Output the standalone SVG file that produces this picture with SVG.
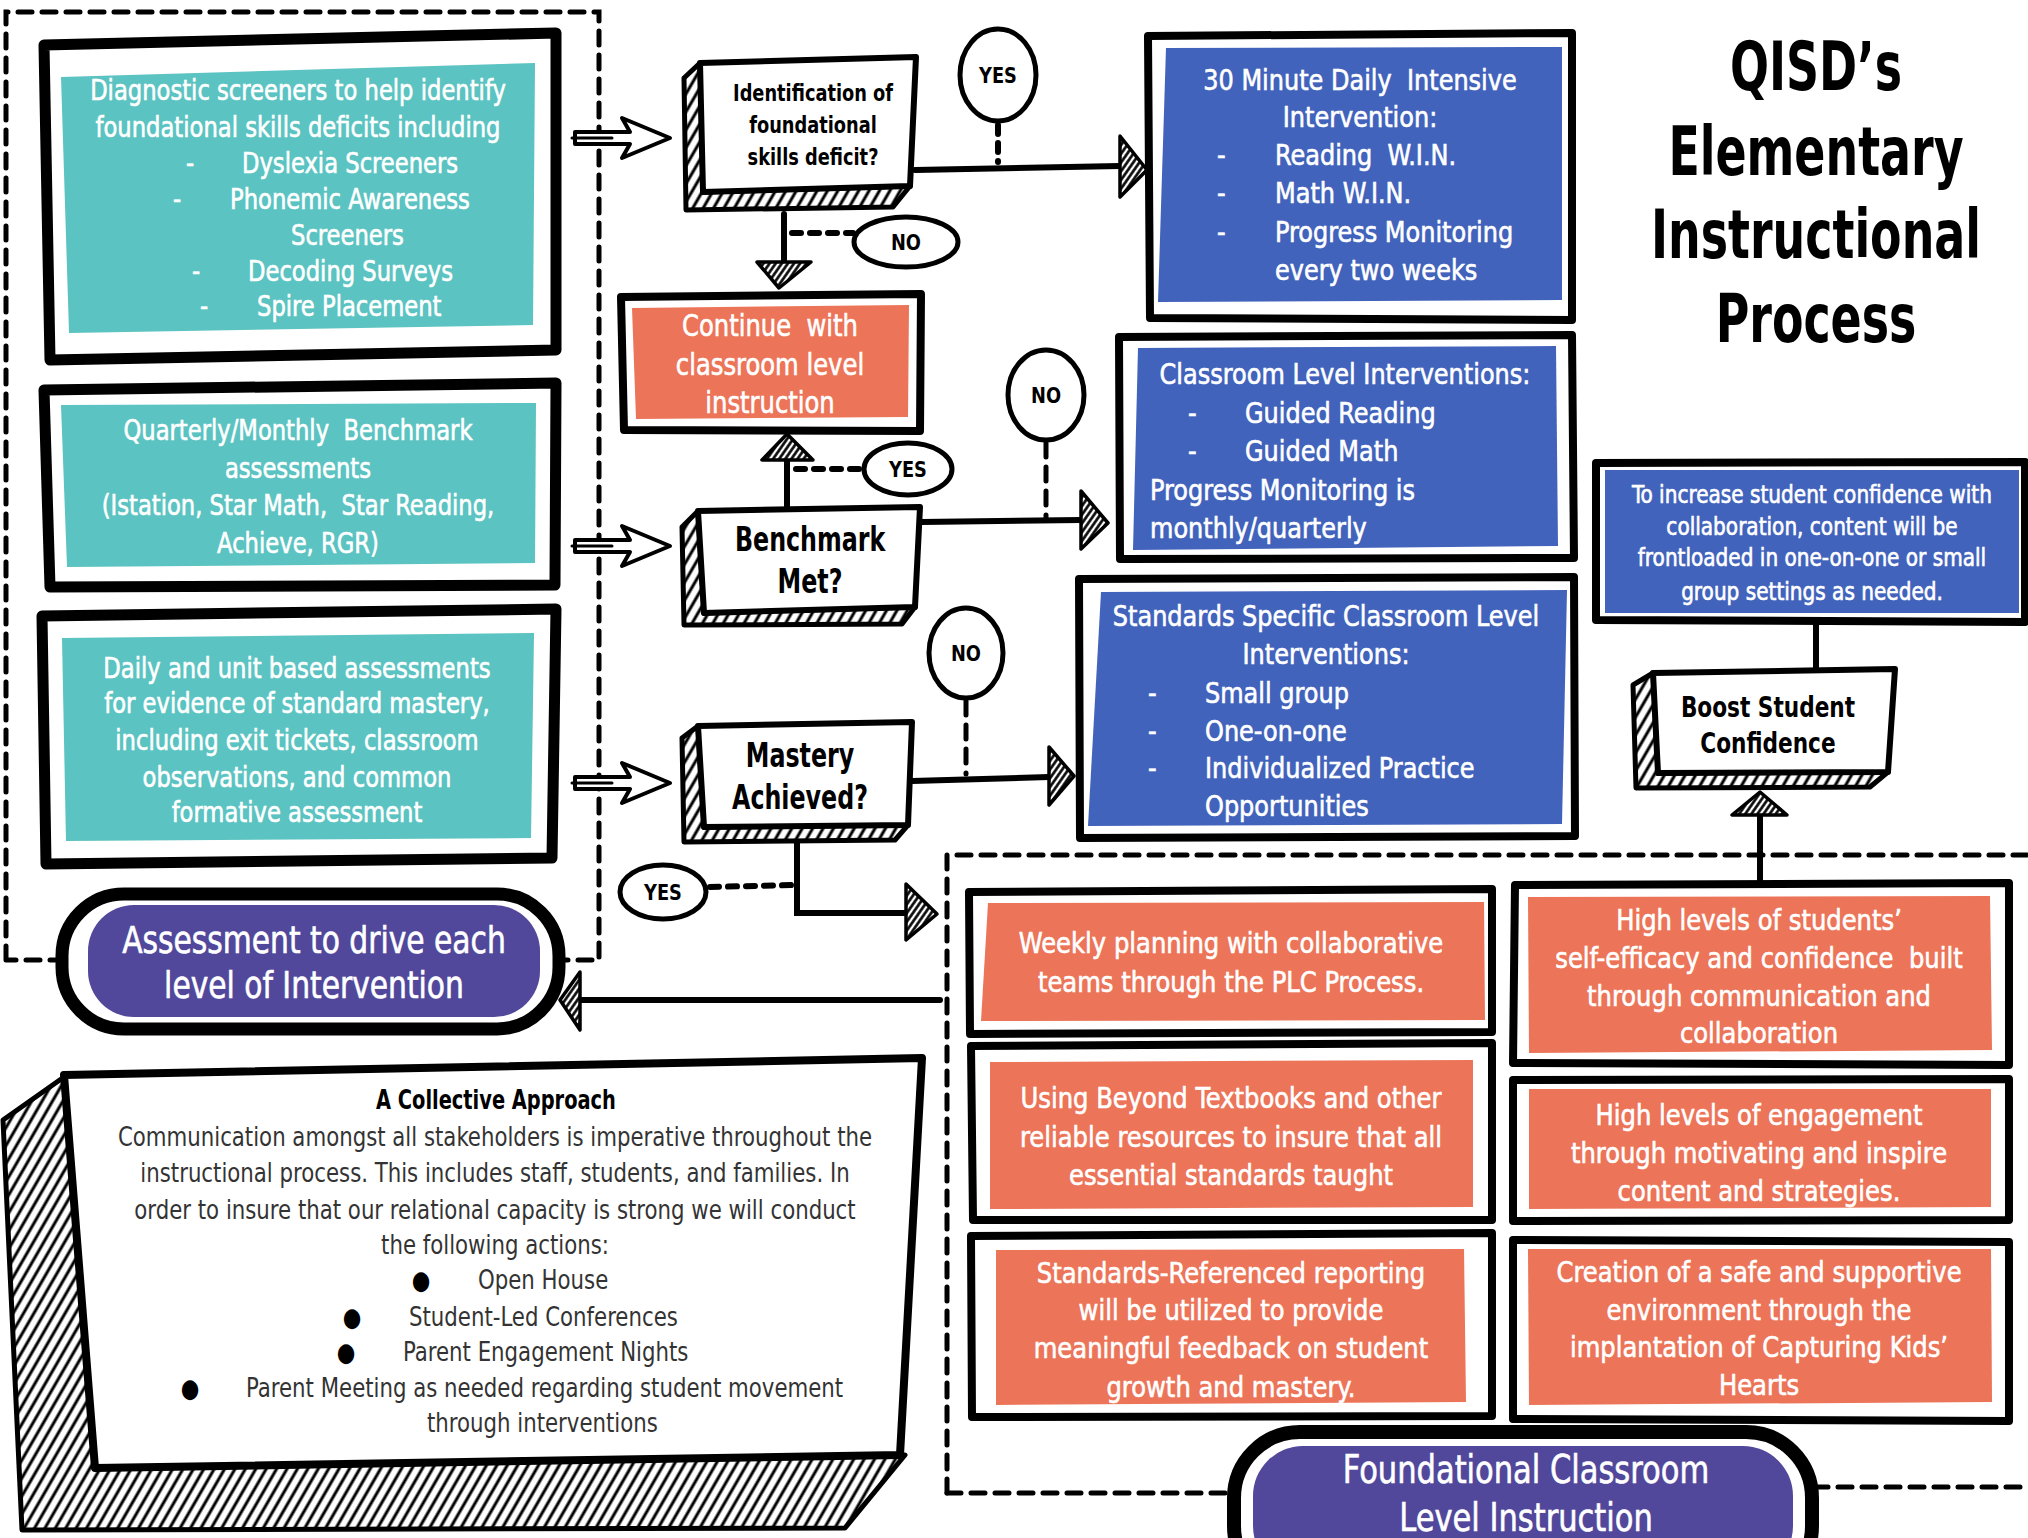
<svg xmlns="http://www.w3.org/2000/svg" width="2028" height="1538" viewBox="0 0 2028 1538">
<defs>
<style>
.fr{fill:#fff;stroke:#000;stroke-width:11;stroke-linejoin:round}
.fr2{fill:#fff;stroke:#000;stroke-width:8;stroke-linejoin:round}
.teal{fill:#5BC3C1}
.blue{fill:#4263BB}
.orng{fill:#EC7458}
.purp{fill:#51489B}
text{transform-box:fill-box;transform-origin:center}
.t{font-family:"Liberation Sans Narrow","DejaVu Sans Condensed","Open Sans",sans-serif;font-stretch:condensed;fill:#fff;stroke:#fff;stroke-width:.6;text-anchor:middle}
.s{text-anchor:start;transform-origin:left center}
.k{fill:#000;stroke:none;font-weight:bold}
.f28{font-size:28px}.f29{font-size:29px}.f24{font-size:24px}.f31{font-size:31px}
#diag text,#bench-assess text,#daily-assess text{transform:scaleX(.9)}
#intensive text,#classroom text,#standards text{transform:scaleX(.92)}
#frontload text{transform:scaleX(.93)}
#weekly text,#beyond text,#reporting text,#selfefficacy text,#engagement text,#safe text{transform:scaleX(.93)}
#continue text{transform:scaleX(.87)}
#collective text{transform:scaleX(.91)}
#collective .ttl{transform:scaleX(.83)}
#ident text{transform:scaleX(.86)}
#benchmark text,#mastery text{transform:scaleX(.8)}
#boost text{transform:scaleX(.83)}
#title text{transform:scaleX(.75)}
#assess-pill text,#found-pill text{transform:scaleX(.87)}
#labels text{transform:scaleX(.9)}
.face{fill:#fff;stroke:#000;stroke-width:6;stroke-linejoin:round}
.back{fill:url(#hatchB);stroke:#000;stroke-width:5;stroke-linejoin:round}
.ln{fill:none;stroke:#000;stroke-width:6;stroke-linecap:round}
.dot{fill:none;stroke:#000;stroke-width:6;stroke-dasharray:9 9;stroke-linecap:round}
.dash{fill:none;stroke:#000;stroke-width:5;stroke-dasharray:14 10;stroke-linecap:round}
.ah{fill:url(#hatchA);stroke:#000;stroke-width:3.5;stroke-linejoin:round}
.el{fill:#fff;stroke:#000;stroke-width:5}
.blk{fill:#fff;stroke:#000;stroke-width:4;stroke-linejoin:round}
.pre{white-space:pre}
</style>
<pattern id="hatchB" width="9" height="9" patternUnits="userSpaceOnUse" patternTransform="rotate(30)">
<rect width="9" height="9" fill="#fff"/>
<line x1="2" y1="0" x2="2" y2="9" stroke="#000" stroke-width="3"/>
</pattern>
<pattern id="hatchA" width="5" height="5" patternUnits="userSpaceOnUse" patternTransform="rotate(35)">
<rect width="5" height="5" fill="#fff"/>
<line x1="1.5" y1="0" x2="1.5" y2="5" stroke="#000" stroke-width="2.6"/>
</pattern>
</defs>
<rect width="2028" height="1538" fill="#fff"/>

<!-- dashed regions -->
<g id="regions">
<path class="dash" d="M6,960 L6,12 L599,12 L599,960 L6,960"/>
<path class="dash" d="M947,1493 L947,855 L2028,855"/>
<path class="dash" d="M947,1493 L1231,1493"/>
<path class="dash" d="M1814,1487 L2028,1487"/>
</g>

<!-- connectors -->
<g id="connectors">
<polygon class="blk" points="575,132 630,132 622,118 670,138 622,158 630,144 575,144"/>
<path class="ln" style="stroke-width:3" d="M572,138 L612,138"/>
<polygon class="blk" points="575,540 630,540 622,526 670,546 622,566 630,552 575,552"/>
<path class="ln" style="stroke-width:3" d="M572,546 L612,546"/>
<polygon class="blk" points="575,777 630,777 622,763 670,783 622,803 630,789 575,789"/>
<path class="ln" style="stroke-width:3" d="M572,783 L612,783"/>
<path class="ln" d="M915,170 L1120,166"/>
<polygon class="ah" points="1120,136 1147,170 1120,197"/>
<path class="dot" d="M998,125 L998,162"/>
<path class="ln" d="M784,214 L784,262"/>
<polygon class="ah" points="757,262 811,262 779,288"/>
<path class="dot" d="M792,233 L853,233"/>
<path class="ln" d="M787,508 L787,460"/>
<polygon class="ah" points="762,460 813,460 787,434"/>
<path class="dot" d="M796,469 L862,469"/>
<path class="ln" d="M921,522 L1081,520"/>
<polygon class="ah" points="1081,491 1108,523 1081,549"/>
<path class="dash" d="M1046,443 L1046,518"/>
<path class="ln" d="M912,781 L1049,777"/>
<polygon class="ah" points="1049,747 1074,776 1049,805"/>
<path class="dash" d="M966,701 L966,774"/>
<path class="ln" d="M797,842 L797,913 L906,913"/>
<polygon class="ah" points="906,884 937,914 906,940"/>
<path class="dot" d="M710,887 L795,885"/>
<path class="ln" d="M940,1000 L580,1000"/>
<polygon class="ah" points="580,972 560,1000 580,1030"/>
<path class="ln" d="M1760,883 L1760,815"/>
<polygon class="ah" points="1732,815 1787,815 1760,792"/>
<path class="ln" d="M1816,622 L1816,671"/>
</g>

<!-- left teal boxes -->
<g id="diag">
<polygon class="fr" points="44,45 556,33 556,350 50,360"/>
<polygon class="teal" points="61,77 535,63 533,325 69,333"/>
<text class="t f28" x="298" y="100">Diagnostic screeners to help identify</text>
<text class="t f28" x="298" y="137">foundational skills deficits including</text>
<text class="t f28 s" x="186" y="173">-</text><text class="t f28 s" x="242" y="173">Dyslexia Screeners</text>
<text class="t f28 s" x="173" y="209">-</text><text class="t f28 s" x="230" y="209">Phonemic Awareness</text>
<text class="t f28 s" x="291" y="245">Screeners</text>
<text class="t f28 s" x="192" y="281">-</text><text class="t f28 s" x="248" y="281">Decoding Surveys</text>
<text class="t f28 s" x="200" y="316">-</text><text class="t f28 s" x="257" y="316">Spire Placement</text>
</g>
<g id="bench-assess">
<polygon class="fr" points="44,390 556,383 555,585 50,587"/>
<polygon class="teal" points="61,405 536,403 535,563 67,567"/>
<text class="t f28 pre" x="298" y="440">Quarterly/Monthly  Benchmark</text>
<text class="t f28" x="298" y="478">assessments</text>
<text class="t f28 pre" x="298" y="515">(Istation, Star Math,  Star Reading,</text>
<text class="t f28" x="298" y="553">Achieve, RGR)</text>
</g>
<g id="daily-assess">
<polygon class="fr" points="42,616 556,609 552,858 46,864"/>
<polygon class="teal" points="62,638 534,633 531,838 66,841"/>
<text class="t f28" x="297" y="678">Daily and unit based assessments</text>
<text class="t f28" x="297" y="713">for evidence of standard mastery,</text>
<text class="t f28" x="297" y="750">including exit tickets, classroom</text>
<text class="t f28" x="297" y="787">observations, and common</text>
<text class="t f28" x="297" y="822">formative assessment</text>
</g>

<!-- assessment pill -->
<g id="assess-pill">
<rect x="62" y="894" width="497" height="135" rx="62" fill="#fff" stroke="#000" stroke-width="13"/>
<rect x="88" y="905" width="452" height="112" rx="46" class="purp"/>
<text class="t" x="314" y="953" font-size="38">Assessment to drive each</text>
<text class="t" x="314" y="998" font-size="38">level of Intervention</text>
</g>

<!-- collective approach -->
<g id="collective">
<polygon class="back" points="64,1077 3,1120 22,1530 845,1528 905,1455 95,1468"/>
<polygon class="fr2" points="64,1075 922,1058 900,1455 95,1468"/>
<text class="t k ttl" x="496" y="1109" font-size="26">A Collective Approach</text>
<g class="t" style="fill:#333;stroke:none;font-size:26px">
<text x="495" y="1146">Communication amongst all stakeholders is imperative throughout the</text>
<text x="495" y="1182">instructional process. This includes staff, students, and families. In</text>
<text x="495" y="1219">order to insure that our relational capacity is strong we will conduct</text>
<text x="495" y="1254">the following actions:</text>
<text x="421" y="1289" style="fill:#000">●</text><text class="s" x="478" y="1289">Open House</text>
<text x="352" y="1326" style="fill:#000">●</text><text class="s" x="409" y="1326">Student-Led Conferences</text>
<text x="346" y="1361" style="fill:#000">●</text><text class="s" x="403" y="1361">Parent Engagement Nights</text>
<text x="190" y="1397" style="fill:#000">●</text><text class="s" x="246" y="1397">Parent Meeting as needed regarding student movement</text>
<text class="s" x="427" y="1432">through interventions</text>
</g>
</g>

<!-- decisions -->
<g id="ident">
<polygon class="back" points="700,63 684,78 686,210 893,207 910,186 703,192"/>
<polygon class="face" points="700,63 916,57 910,186 703,192"/>
<text class="t k" x="813" y="101" font-size="23">Identification of</text>
<text class="t k" x="813" y="133" font-size="23">foundational</text>
<text class="t k" x="813" y="165" font-size="23">skills deficit?</text>
</g>
<g id="continue">
<polygon class="fr2" points="621,297 921,294 920,431 624,430"/>
<polygon class="orng" points="632,308 909,305 908,417 636,419"/>
<text class="t f31 pre" x="770" y="336">Continue  with</text>
<text class="t f31" x="770" y="375">classroom level</text>
<text class="t f31" x="770" y="413">instruction</text>
</g>
<g id="benchmark">
<polygon class="back" points="698,511 682,527 684,625 902,624 915,607 704,613"/>
<polygon class="face" points="698,511 920,507 915,607 704,613"/>
<text class="t k" x="810" y="551" font-size="33">Benchmark</text>
<text class="t k" x="810" y="593" font-size="33">Met?</text>
</g>
<g id="mastery">
<polygon class="back" points="698,726 682,738 684,842 895,840 908,825 704,827"/>
<polygon class="face" points="698,726 912,722 908,825 704,827"/>
<text class="t k" x="800" y="767" font-size="33">Mastery</text>
<text class="t k" x="800" y="809" font-size="33">Achieved?</text>
</g>
<g id="boost">
<polygon class="back" points="1653,673 1633,685 1636,788 1870,787 1888,772 1658,773"/>
<polygon class="face" points="1653,673 1895,669 1888,772 1658,773"/>
<text class="t k" x="1768" y="717" font-size="29">Boost Student</text>
<text class="t k" x="1768" y="753" font-size="29">Confidence</text>
</g>

<!-- yes/no labels -->
<g id="labels">
<ellipse class="el" cx="998" cy="75" rx="38" ry="46"/><text class="t k" x="998" y="83" font-size="22">YES</text>
<ellipse class="el" cx="906" cy="242" rx="52" ry="25"/><text class="t k" x="906" y="250" font-size="22">NO</text>
<ellipse class="el" cx="1046" cy="395" rx="38" ry="45"/><text class="t k" x="1046" y="403" font-size="22">NO</text>
<ellipse class="el" cx="908" cy="469" rx="44" ry="26"/><text class="t k" x="908" y="477" font-size="22">YES</text>
<ellipse class="el" cx="966" cy="653" rx="37" ry="45"/><text class="t k" x="966" y="661" font-size="22">NO</text>
<ellipse class="el" cx="663" cy="892" rx="43" ry="27"/><text class="t k" x="663" y="900" font-size="22">YES</text>
</g>

<!-- blue boxes -->
<g id="intensive">
<polygon class="fr2" points="1148,36 1572,33 1572,320 1150,318"/>
<polygon class="blue" points="1166,48 1562,47 1562,300 1158,302"/>
<text class="t f29 pre" x="1360" y="90">30 Minute Daily  Intensive</text>
<text class="t f29" x="1360" y="127">Intervention:</text>
<text class="t f29 s" x="1217" y="165">-</text><text class="t f29 s pre" x="1275" y="165">Reading  W.I.N.</text>
<text class="t f29 s" x="1217" y="203">-</text><text class="t f29 s" x="1275" y="203">Math W.I.N.</text>
<text class="t f29 s" x="1217" y="242">-</text><text class="t f29 s" x="1275" y="242">Progress Monitoring</text>
<text class="t f29 s" x="1275" y="280">every two weeks</text>
</g>
<g id="classroom">
<polygon class="fr2" points="1119,337 1572,335 1574,558 1120,559"/>
<polygon class="blue" points="1138,348 1556,346 1558,546 1133,550"/>
<text class="t f29" x="1345" y="384">Classroom Level Interventions:</text>
<text class="t f29 s" x="1188" y="423">-</text><text class="t f29 s" x="1245" y="423">Guided Reading</text>
<text class="t f29 s" x="1188" y="461">-</text><text class="t f29 s" x="1245" y="461">Guided Math</text>
<text class="t f29 s" x="1150" y="500">Progress Monitoring is</text>
<text class="t f29 s" x="1150" y="538">monthly/quarterly</text>
</g>
<g id="standards">
<polygon class="fr2" points="1079,579 1574,577 1575,836 1080,838"/>
<polygon class="blue" points="1101,592 1567,590 1562,824 1088,826"/>
<text class="t f29" x="1326" y="626">Standards Specific Classroom Level</text>
<text class="t f29" x="1326" y="664">Interventions:</text>
<text class="t f29 s" x="1148" y="703">-</text><text class="t f29 s" x="1205" y="703">Small group</text>
<text class="t f29 s" x="1148" y="741">-</text><text class="t f29 s" x="1205" y="741">One-on-one</text>
<text class="t f29 s" x="1148" y="778">-</text><text class="t f29 s" x="1205" y="778">Individualized Practice</text>
<text class="t f29 s" x="1205" y="816">Opportunities</text>
</g>
<g id="frontload">
<polygon class="fr2" points="1596,463 2025,462 2025,622 1596,620"/>
<polygon class="blue" points="1605,470 2019,470 2019,613 1605,613"/>
<text class="t f24" x="1812" y="503">To increase student confidence with</text>
<text class="t f24" x="1812" y="535">collaboration, content will be</text>
<text class="t f24" x="1812" y="566">frontloaded in one-on-one or small</text>
<text class="t f24" x="1812" y="600">group settings as needed.</text>
</g>

<!-- title -->
<g id="title">
<text class="t k" x="1816" y="90" font-size="68">QISD’s</text>
<text class="t k" x="1816" y="175" font-size="68">Elementary</text>
<text class="t k" x="1816" y="258" font-size="68">Instructional</text>
<text class="t k" x="1816" y="342" font-size="68">Process</text>
</g>

<!-- orange boxes -->
<g id="weekly">
<polygon class="fr2" points="969,892 1492,889 1492,1032 970,1034"/>
<polygon class="orng" points="988,903 1484,902 1485,1020 981,1021"/>
<text class="t f29" x="1231" y="953">Weekly planning with collaborative</text>
<text class="t f29" x="1231" y="992">teams through the PLC Process.</text>
</g>
<g id="beyond">
<polygon class="fr2" points="971,1046 1492,1043 1492,1220 973,1220"/>
<polygon class="orng" points="990,1062 1473,1060 1473,1207 990,1209"/>
<text class="t f29" x="1231" y="1108">Using Beyond Textbooks and other</text>
<text class="t f29" x="1231" y="1147">reliable resources to insure that all</text>
<text class="t f29" x="1231" y="1185">essential standards taught</text>
</g>
<g id="reporting">
<polygon class="fr2" points="971,1236 1492,1233 1492,1416 972,1417"/>
<polygon class="orng" points="996,1250 1464,1249 1466,1402 996,1405"/>
<text class="t f29" x="1231" y="1283">Standards-Referenced reporting</text>
<text class="t f29" x="1231" y="1320">will be utilized to provide</text>
<text class="t f29" x="1231" y="1358">meaningful feedback on student</text>
<text class="t f29" x="1231" y="1397">growth and mastery.</text>
</g>
<g id="selfefficacy">
<polygon class="fr2" points="1515,885 2009,883 2009,1065 1513,1063"/>
<polygon class="orng" points="1528,897 1990,896 1992,1050 1529,1053"/>
<text class="t f29" x="1759" y="930">High levels of students’</text>
<text class="t f29 pre" x="1759" y="968">self-efficacy and confidence  built</text>
<text class="t f29" x="1759" y="1006">through communication and</text>
<text class="t f29" x="1759" y="1043">collaboration</text>
</g>
<g id="engagement">
<polygon class="fr2" points="1513,1080 2009,1079 2009,1220 1513,1221"/>
<polygon class="orng" points="1529,1089 1991,1089 1991,1207 1529,1209"/>
<text class="t f29" x="1759" y="1125">High levels of engagement</text>
<text class="t f29" x="1759" y="1163">through motivating and inspire</text>
<text class="t f29" x="1759" y="1201">content and strategies.</text>
</g>
<g id="safe">
<polygon class="fr2" points="1513,1240 2009,1242 2009,1421 1513,1419"/>
<polygon class="orng" points="1528,1249 1991,1249 1992,1402 1529,1405"/>
<text class="t f29" x="1759" y="1282">Creation of a safe and supportive</text>
<text class="t f29" x="1759" y="1320">environment through the</text>
<text class="t f29" x="1759" y="1357">implantation of Capturing Kids’</text>
<text class="t f29" x="1759" y="1395">Hearts</text>
</g>

<!-- foundational pill -->
<g id="found-pill">
<rect x="1234" y="1432" width="578" height="160" rx="66" fill="#fff" stroke="#000" stroke-width="14"/>
<rect x="1253" y="1446" width="540" height="130" rx="50" class="purp"/>
<text class="t" x="1526" y="1483" font-size="39">Foundational Classroom</text>
<text class="t" x="1526" y="1531" font-size="39">Level Instruction</text>
</g>
</svg>
